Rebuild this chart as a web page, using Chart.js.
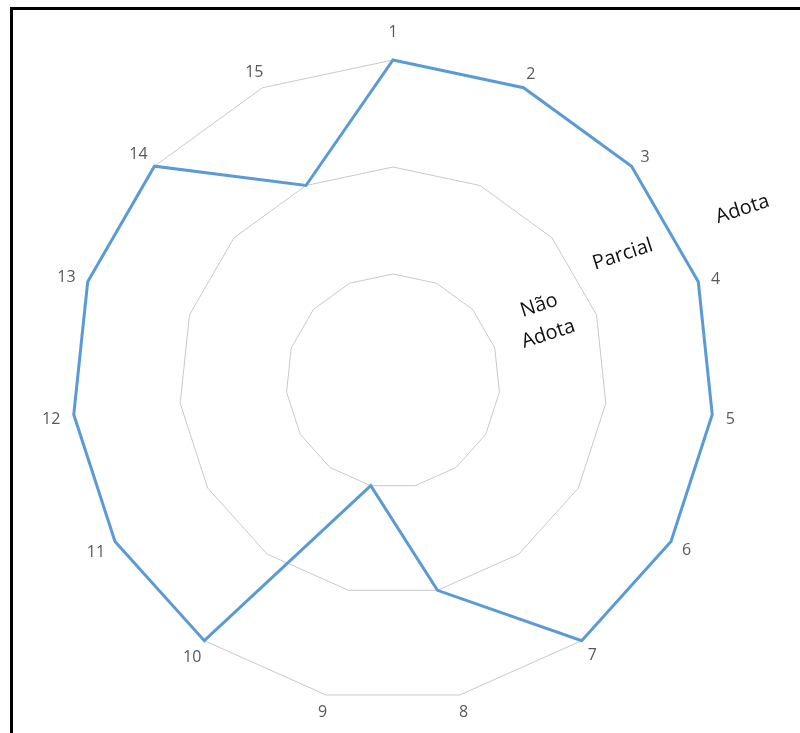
<!DOCTYPE html>
<html lang="pt">
<head>
<meta charset="utf-8">
<title>Radar – adoção por item</title>
<script src="https://cdn.jsdelivr.net/npm/chart.js@4.4.1/dist/chart.umd.min.js"></script>
<style>
  html, body { margin: 0; padding: 0; background: #fff; overflow: hidden; }
  #wrap { position: relative; width: 800px; height: 733px; }
  #frame {
    position: absolute; left: 10px; top: 7px;
    width: 1000px; height: 1000px;
    border-left: 3px solid #000; border-top: 3px solid #000;
    box-sizing: border-box;
  }
  #chart { position: absolute; left: 0; top: 0; }
</style>
</head>
<body>
<div id="wrap">
  <div id="frame"></div>
  <canvas id="chart" width="800" height="733"></canvas>
</div>
<script>
// Items evaluated (one spoke each)
const categories = ['1', '2', '3', '4', '5', '6', '7', '8', '9', '10', '11', '12', '13', '14', '15'];
// Adoption level per item: 1 = Não Adota, 2 = Parcial, 3 = Adota
const adoption = [3, 3, 3, 3, 3, 3, 3, 2, 1, 3, 3, 3, 3, 3, 2];
// Level scale
const levelTicks = [0, 1, 2, 3];
const levelNames = [['Não', 'Adota'], ['Parcial'], ['Adota']];

const LABEL_FONT = '16px "Open Sans", "DejaVu Sans", sans-serif';
const CAPTION_FONT = '20px "Open Sans", "DejaVu Sans", sans-serif';

// Spoke labels, centred a little outside the outer ring
const spokeLabels = {
  id: 'spokeLabels',
  afterDraw(chart) {
    const scale = chart.scales.r;
    const ctx = chart.ctx;
    ctx.save();
    ctx.font = LABEL_FONT;
    ctx.fillStyle = '#595959';
    ctx.textAlign = 'center';
    ctx.textBaseline = 'middle';
    const R = scale.drawingArea;
    categories.forEach((label, i) => {
      const a = scale.getIndexAngle(i);
      const w = ctx.measureText(label).width;
      let d = R + 18 + Math.abs(Math.sin(a)) * (w - 9) / 2;
      if (i === 0) d += 10;
      const p = scale.getPointPosition(i, d);
      const dy = (i !== 0 && Math.cos(a) > -0.2) ? 3 : 0;
      ctx.fillText(label, p.x, p.y + dy);
    });
    ctx.restore();
  }
};

// Rotated captions naming each level band
const levelCaptions = {
  id: 'levelCaptions',
  afterDraw(chart, args, opts) {
    const scale = chart.scales.r;
    const ctx = chart.ctx;
    ctx.save();
    ctx.font = CAPTION_FONT;
    ctx.fillStyle = '#111';
    ctx.textAlign = 'center';
    ctx.textBaseline = 'middle';
    opts.anchors.forEach((anc, k) => {
      const lines = levelNames[k];
      const p = scale.getPointPosition(anc.index, scale.getDistanceFromCenterForValue(anc.value));
      ctx.save();
      ctx.translate(p.x, p.y);
      ctx.rotate(opts.rotation * Math.PI / 180);
      const lh = opts.lineHeight;
      lines.forEach((t, j) => {
        ctx.fillText(t, 0, (j - (lines.length - 1) / 2) * lh);
      });
      ctx.restore();
    });
    ctx.restore();
  }
};

new Chart(document.getElementById('chart'), {
  type: 'radar',
  data: {
    labels: categories,
    datasets: [{
      data: adoption,
      borderColor: '#5b9bd5',
      borderWidth: 3,
      backgroundColor: 'rgba(0,0,0,0)',
      fill: false,
      pointRadius: 0,
      pointHoverRadius: 0,
      tension: 0
    }]
  },
  options: {
    responsive: false,
    animation: false,
    devicePixelRatio: 1,
    layout: { padding: { top: 60, bottom: 30, left: 72, right: 85 } },
    plugins: {
      legend: { display: false },
      tooltip: { enabled: false },
      levelCaptions: {
        rotation: -18,
        lineHeight: 30,
        anchors: [
          { index: 2.83, value: 1.52 },
          { index: 2.55, value: 2.45 },
          { index: 2.66, value: 3.64 }
        ]
      }
    },
    scales: {
      r: {
        min: levelTicks[0],
        max: levelTicks[levelTicks.length - 1],
        ticks: { display: false, stepSize: 1 },
        angleLines: { display: false },
        grid: { color: '#c9c9c9', lineWidth: 1 },
        pointLabels: { display: false }
      }
    }
  },
  plugins: [spokeLabels, levelCaptions]
});
</script>
</body>
</html>
